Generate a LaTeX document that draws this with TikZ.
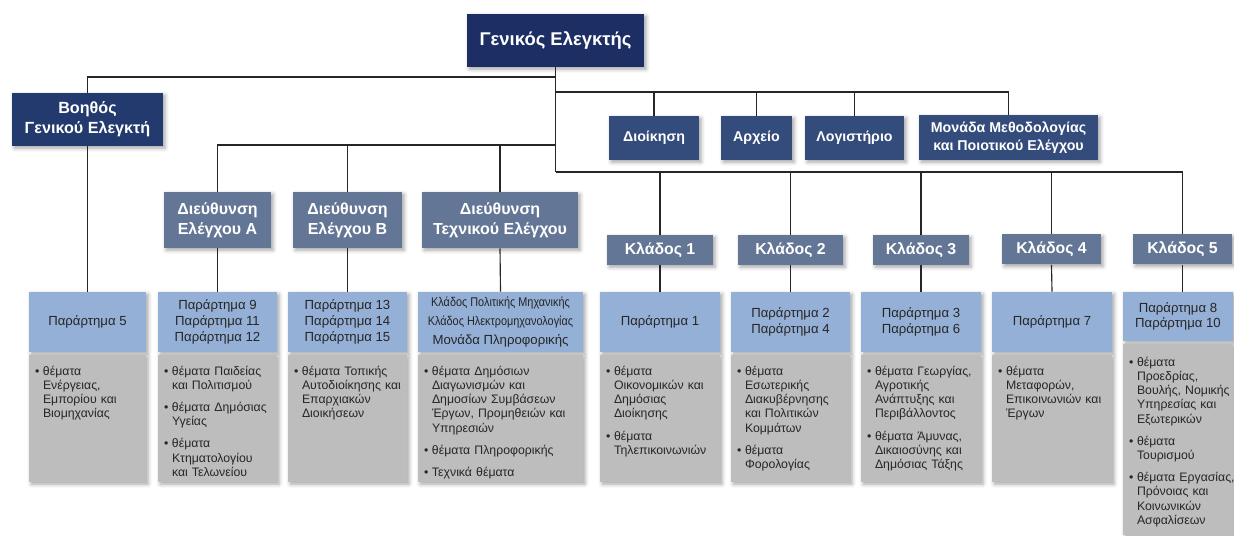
\documentclass[tikz,border=0pt]{standalone}
\usepackage{fontspec}
\setmainfont{Liberation Sans}
\usetikzlibrary{positioning,shadows.blur}
\definecolor{navytop}{HTML}{1C2E63}
\definecolor{navyaux}{HTML}{223A6E}
\definecolor{navystaff}{HTML}{344C7C}
\definecolor{slateblue}{HTML}{647696}
\definecolor{paleblue}{HTML}{95B0D6}
\definecolor{boxgrey}{HTML}{BDBDBD}
\newlength{\upx}
\setlength{\upx}{0.02cm}
\newcommand{\bitem}[1]{\par\hangindent=8\upx\hangafter=1\noindent\makebox[8\upx][l]{\textbullet}#1\par\vspace{4.5pt}}

\begin{document}
\begin{tikzpicture}[x=0.02cm, y=-0.02cm,
    box/.style = {inner sep=1pt, align=center, text=white, blur shadow={shadow xshift=1.2pt, shadow yshift=-1.2pt, shadow blur steps=4, shadow opacity=35}},
    topbox/.style = {box, fill=navytop, font=\bfseries\fontsize{10.5}{13}\selectfont},
    auxbox/.style = {box, fill=navyaux, font=\bfseries\fontsize{9.2}{11.5}\selectfont},
    staffbox/.style = {box, fill=navystaff, font=\bfseries\fontsize{8.1}{10}\selectfont},
    dirbox/.style = {box, fill=slateblue, font=\bfseries\fontsize{9.1}{11.5}\selectfont},
    kladbox/.style = {box, fill=slateblue, font=\bfseries\fontsize{9}{11}\selectfont},
    headbox/.style = {box, fill=paleblue, text=black!85, font=\fontsize{7.5}{8.9}\selectfont},
    bodybox/.style = {box, fill=boxgrey, minimum height=127\upx},
    bodytext/.style = {inner sep=0pt, anchor=north west, align=left, text width=150\upx, text=black!85, font=\fontsize{7}{8.1}\selectfont},
    link/.style = {draw=black!85, line width=0.65pt}]
  \useasboundingbox (0,0) rectangle (1234,536);

  % top levels
  \node[topbox, minimum width=177\upx, minimum height=53\upx] (GE) at (555.5,40.5) {Γενικός Ελεγκτής};
  \node[auxbox, minimum width=151\upx, minimum height=53\upx] (BGE) at (87.5,119.5) {Βοηθός\\Γενικού Ελεγκτή};
  \node[staffbox, minimum width=90\upx, minimum height=44\upx] (DIO) at (654,138) {Διοίκηση};
  \node[staffbox, minimum width=71\upx, minimum height=44\upx] (ARX) at (756.5,138) {Αρχείο};
  \node[staffbox, minimum width=99\upx, minimum height=44\upx] (LOG) at (854.5,138) {Λογιστήριο};
  \node[staffbox, minimum width=179\upx, minimum height=45\upx] (MON) at (1008.5,137.5) {Μονάδα Μεθοδολογίας\\και Ποιοτικού Ελέγχου};

  % directorates
  \node[dirbox, minimum width=107\upx, minimum height=56\upx] (DA) at (217.5,220) {Διεύθυνση\\Ελέγχου Α};
  \node[dirbox, minimum width=109\upx, minimum height=56\upx] (DB) at (347.5,220) {Διεύθυνση\\Ελέγχου Β};
  \node[dirbox, minimum width=156\upx, minimum height=56\upx] (DT) at (500,220) {Διεύθυνση\\Τεχνικού Ελέγχου};

  % branches
  \node[kladbox, minimum width=106\upx, minimum height=30\upx] (K1) at (660,250) {Κλάδος 1};
  \node[kladbox, minimum width=105\upx, minimum height=30\upx] (K2) at (790.5,250) {Κλάδος 2};
  \node[kladbox, minimum width=96\upx, minimum height=30\upx] (K3) at (921,250) {Κλάδος 3};
  \node[kladbox, minimum width=99\upx, minimum height=30\upx] (K4) at (1051.5,249.5) {Κλάδος 4};
  \node[kladbox, minimum width=99\upx, minimum height=30\upx] (K5) at (1182.5,249.5) {Κλάδος 5};

  % annex headers
  \node[headbox, minimum width=117\upx, minimum height=60\upx] (H1) at (87.5,322) {Παράρτημα 5};
  \node[headbox, minimum width=119\upx, minimum height=60\upx] (H2) at (217.5,322) {Παράρτημα 9\\Παράρτημα 11\\Παράρτημα 12};
  \node[headbox, minimum width=119\upx, minimum height=60\upx] (H3) at (347.5,322) {Παράρτημα 13\\Παράρτημα 14\\Παράρτημα 15};
  \node[headbox, minimum width=165\upx, minimum height=60\upx, font=\fontsize{7.2}{10.8}\selectfont] (H4) at (500.5,322) {{\addfontfeatures{FakeStretch=0.86}Κλάδος Πολιτικής Μηχανικής}\\{\addfontfeatures{FakeStretch=0.86}Κλάδος Ηλεκτρομηχανολογίας}\\{\fontsize{7.5}{10.8}\selectfont Μονάδα Πληροφορικής}};
  \node[headbox, minimum width=120\upx, minimum height=60\upx] (H5) at (660,322) {Παράρτημα 1};
  \node[headbox, minimum width=119\upx, minimum height=60\upx] (H6) at (790.5,322) {Παράρτημα 2\\Παράρτημα 4};
  \node[headbox, minimum width=120\upx, minimum height=60\upx] (H7) at (921,322) {Παράρτημα 3\\Παράρτημα 6};
  \node[headbox, minimum width=120\upx, minimum height=60\upx] (H8) at (1052,322) {Παράρτημα 7};
  \node[headbox, minimum width=110\upx, minimum height=49\upx] (H9) at (1178,316.5) {Παράρτημα 8\\Παράρτημα 10};

  % subject boxes
  \node[bodybox, minimum width=117\upx] (B1) at (87.5,418.5) {};
  \node[bodybox, minimum width=119\upx] (B2) at (217.5,418.5) {};
  \node[bodybox, minimum width=119\upx] (B3) at (347.5,418.5) {};
  \node[bodybox, minimum width=165\upx] (B4) at (500.5,418.5) {};
  \node[bodybox, minimum width=120\upx] (B5) at (660,418.5) {};
  \node[bodybox, minimum width=119\upx] (B6) at (790.5,418.5) {};
  \node[bodybox, minimum width=120\upx] (B7) at (921,418.5) {};
  \node[bodybox, minimum width=120\upx] (B8) at (1052,418.5) {};
  \node[bodybox, minimum width=110\upx, minimum height=191\upx] (B9) at (1178,439.5) {};

  \node[bodytext] (T1) at ([shift={(6,6)}]B1.north west) {\bitem{θέματα\newline Ενέργειας,\newline Εμπορίου και\newline Βιομηχανίας}};
  \node[bodytext] (T2) at ([shift={(6,6)}]B2.north west) {\bitem{θέματα Παιδείας\newline και Πολιτισμού}\bitem{θέματα Δημόσιας\newline Υγείας}\bitem{θέματα\newline Κτηματολογίου\newline και Τελωνείου}};
  \node[bodytext] (T3) at ([shift={(6,6)}]B3.north west) {\bitem{θέματα Τοπικής\newline Αυτοδιοίκησης και\newline Επαρχιακών\newline Διοικήσεων}};
  \node[bodytext] (T4) at ([shift={(6,6)}]B4.north west) {\bitem{θέματα Δημόσιων\newline Διαγωνισμών και\newline Δημοσίων Συμβάσεων\newline Έργων, Προμηθειών και\newline Υπηρεσιών}\bitem{θέματα Πληροφορικής}\bitem{Τεχνικά θέματα}};
  \node[bodytext] (T5) at ([shift={(6,6)}]B5.north west) {\bitem{θέματα\newline Οικονομικών και\newline Δημόσιας\newline Διοίκησης}\bitem{θέματα\newline Τηλεπικοινωνιών}};
  \node[bodytext] (T6) at ([shift={(6,6)}]B6.north west) {\bitem{θέματα\newline Εσωτερικής\newline Διακυβέρνησης\newline και Πολιτικών\newline Κομμάτων}\bitem{θέματα\newline Φορολογίας}};
  \node[bodytext] (T7) at ([shift={(6,6)}]B7.north west) {\bitem{θέματα Γεωργίας,\newline Αγροτικής\newline Ανάπτυξης και\newline Περιβάλλοντος}\bitem{θέματα Άμυνας,\newline Δικαιοσύνης και\newline Δημόσιας Τάξης}};
  \node[bodytext] (T8) at ([shift={(6,6)}]B8.north west) {\bitem{θέματα\newline Μεταφορών,\newline Επικοινωνιών και\newline Έργων}};
  \node[bodytext] (T9) at ([shift={(6,8)}]B9.north west) {\bitem{θέματα\newline Προεδρίας,\newline Βουλής, Νομικής\newline Υπηρεσίας και\newline Εξωτερικών}\bitem{θέματα\newline Τουρισμού}\bitem{θέματα Εργασίας,\newline Πρόνοιας και\newline Κοινωνικών\newline Ασφαλίσεων}};

  % connectors
  \coordinate (j1) at (555.5,77);
  \coordinate (j2) at (555.5,92);
  \coordinate (j3) at (555.5,145);
  \coordinate (j4) at (555.5,172);
  \draw[link] (GE.south) -- (j4);
  \draw[link] (j1) -| (BGE.north);
  \draw[link] (j2) -| (MON.north);
  \draw[link] (j2) -| (DIO.north);
  \draw[link] (j2) -| (ARX.north);
  \draw[link] (j2) -| (LOG.north);
  \draw[link] (j3) -| (DA.north);
  \draw[link] (j3) -| (DB.north);
  \draw[link] (j3) -| (DT.north);
  \draw[link] (j4) -| (K5.north);
  \draw[link] (j4) -| (K1.north);
  \draw[link] (j4) -| (K2.north);
  \draw[link] (j4) -| (K3.north);
  \draw[link] (j4) -| (K4.north);
  \draw[link] (BGE.south) -- (H1.north);
  \draw[link] (DA.south) -- (H2.north);
  \draw[link] (DB.south) -- (H3.north);
  \draw[link] (DT.south) -- (H4.north);
  \draw[link] (K1.south) -- (H5.north);
  \draw[link] (K2.south) -- (H6.north);
  \draw[link] (K3.south) -- (H7.north);
  \draw[link] (K4.south) -- (H8.north);
  \draw[link] (K5.south) -- (K5.south |- H9.north);
\end{tikzpicture}
\end{document}
